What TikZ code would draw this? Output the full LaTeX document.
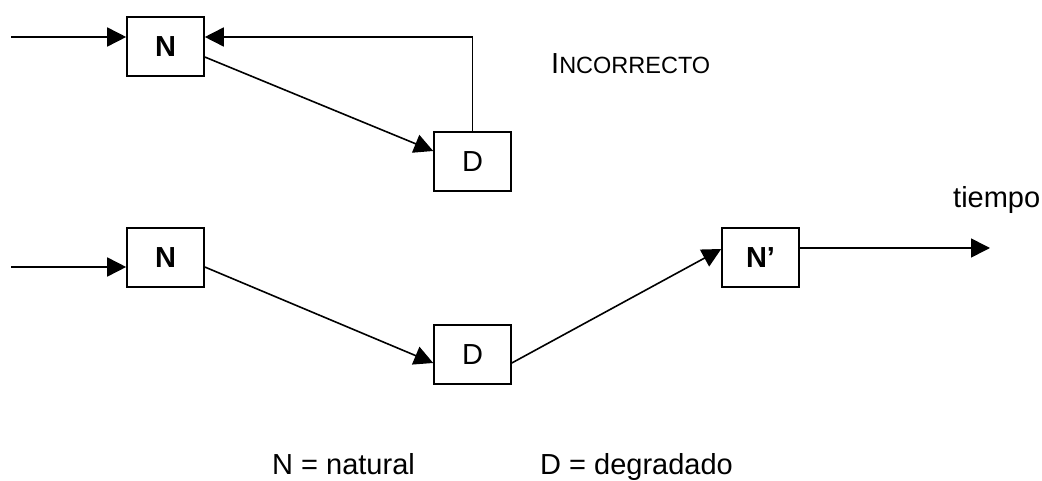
\documentclass[tikz,border=0pt]{standalone}
\usepackage{fontspec}
\setmainfont{Liberation Sans}
\usetikzlibrary{arrows.meta}
\begin{document}
\begin{tikzpicture}[x=1pt,y=1pt,
    caja/.style={draw,line width=1.6pt,minimum width=77pt,minimum height=59pt,inner sep=0pt,font=\fontsize{29}{34}\selectfont},
    flecha/.style={line width=1.6pt,-{Triangle[length=19pt,width=19pt]}},
    texto/.style={inner sep=0pt,anchor=base west,font=\fontsize{29}{34}\selectfont}]
      \useasboundingbox (0,0) rectangle (1042,480);
      \node[caja] (n1) at (165.5,433.5) {\textbf{N}};
      \node[caja] (d1) at (472.5,318.5) {D};
      \coordinate (e1) at (11,443);
      \draw[flecha] (e1) -- ([yshift=9.5pt]n1.west);
      \draw[flecha] ([yshift=-10.5pt]n1.east) -- ([yshift=10.5pt]d1.west);
      \draw[flecha] (d1.north) |- ([yshift=9.5pt]n1.east);
      \node[texto] (inc) at (551,406) {I{\fontsize{23.5}{28}\selectfont NCORRECTO}};
      \node[caja] (n2) at (165.5,222.5) {\textbf{N}};
      \node[caja] (d2) at (472.5,125.5) {D};
      \node[caja] (n3) at (760.5,222.5) {\textbf{N’}};
      \coordinate (e2) at (11,213);
      \coordinate (s3) at (990,232);
      \draw[flecha] (e2) -- ([yshift=-9.5pt]n2.west);
      \draw[flecha] ([yshift=-9.5pt]n2.east) -- ([yshift=-8.5pt]d2.west);
      \draw[flecha] ([yshift=-8.5pt]d2.east) -- ([yshift=8.5pt]n3.west);
      \draw[flecha] ([yshift=9.5pt]n3.east) -- (s3);
      \node[texto] (tiempo) at (953,272) {tiempo};
      \node[texto] (leyn) at (272,6) {N = natural};
      \node[texto] (leyd) at (540,6) {D = degradado};
\end{tikzpicture}
\end{document}
